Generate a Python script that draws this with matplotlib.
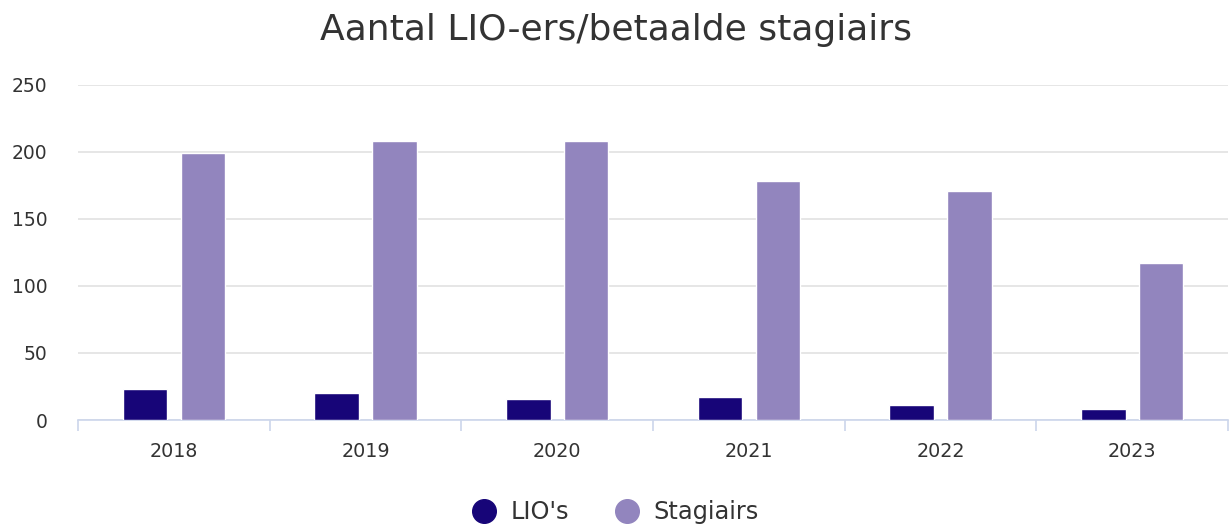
import matplotlib.pyplot as plt
from matplotlib.lines import Line2D
import numpy as np

years = ['2018', '2019', '2020', '2021', '2022', '2023']
lio = [23, 20, 16, 17, 11, 8]
stagiairs = [199, 208, 208, 178, 171, 117]

kleur_lio = '#170578'
kleur_stag = '#9285be'
tekst = '#333333'

fig = plt.figure(figsize=(12.31, 5.29), dpi=100)
ax = fig.add_axes([0.0634, 0.206, 0.9342, 0.634])

x = np.arange(len(years))
breedte = 0.232
ax.bar(x - 0.151, lio, breedte, color=kleur_lio, edgecolor='white', linewidth=1, zorder=3)
ax.bar(x + 0.151, stagiairs, breedte, color=kleur_stag, edgecolor='white', linewidth=1, zorder=3)

ax.set_xlim(-0.5, len(years) - 0.5)
ax.set_ylim(0, 250)
ax.set_yticks([0, 50, 100, 150, 200, 250])
ax.yaxis.grid(True, color='#e6e6e6', linewidth=1.4, zorder=0)
ax.set_axisbelow(True)

for s in ['top', 'right', 'left']:
    ax.spines[s].set_visible(False)
ax.spines['bottom'].set_color('#ccd6eb')
ax.spines['bottom'].set_linewidth(1.2)

ax.set_xticks(x)
ax.set_xticklabels(years)
ax.set_xticks(np.arange(-0.5, len(years)), minor=True)
ax.tick_params(axis='x', which='major', length=0, pad=16, labelsize=13.8, labelcolor=tekst)
ax.tick_params(axis='x', which='minor', length=8, width=1.2, color='#ccd6eb')
ax.tick_params(axis='y', length=0, pad=22, labelsize=13.5, labelcolor=tekst)
for lbl in ax.get_yticklabels():
    lbl.set_horizontalalignment('right')

fig.suptitle('Aantal LIO-ers/betaalde stagiairs', y=0.943, va='center', fontsize=26, color=tekst)

handles = [
    Line2D([], [], marker='o', linestyle='', markersize=17, color=kleur_lio, label="LIO's"),
    Line2D([], [], marker='o', linestyle='', markersize=17, color=kleur_stag, label='Stagiairs'),
]
fig.legend(handles=handles, loc='center', bbox_to_anchor=(0.5, 0.032), ncol=2, frameon=False,
           fontsize=17.3, labelcolor=tekst, handletextpad=0.6, columnspacing=1.9, handlelength=1.0)

fig.savefig('out.png', dpi=100)
